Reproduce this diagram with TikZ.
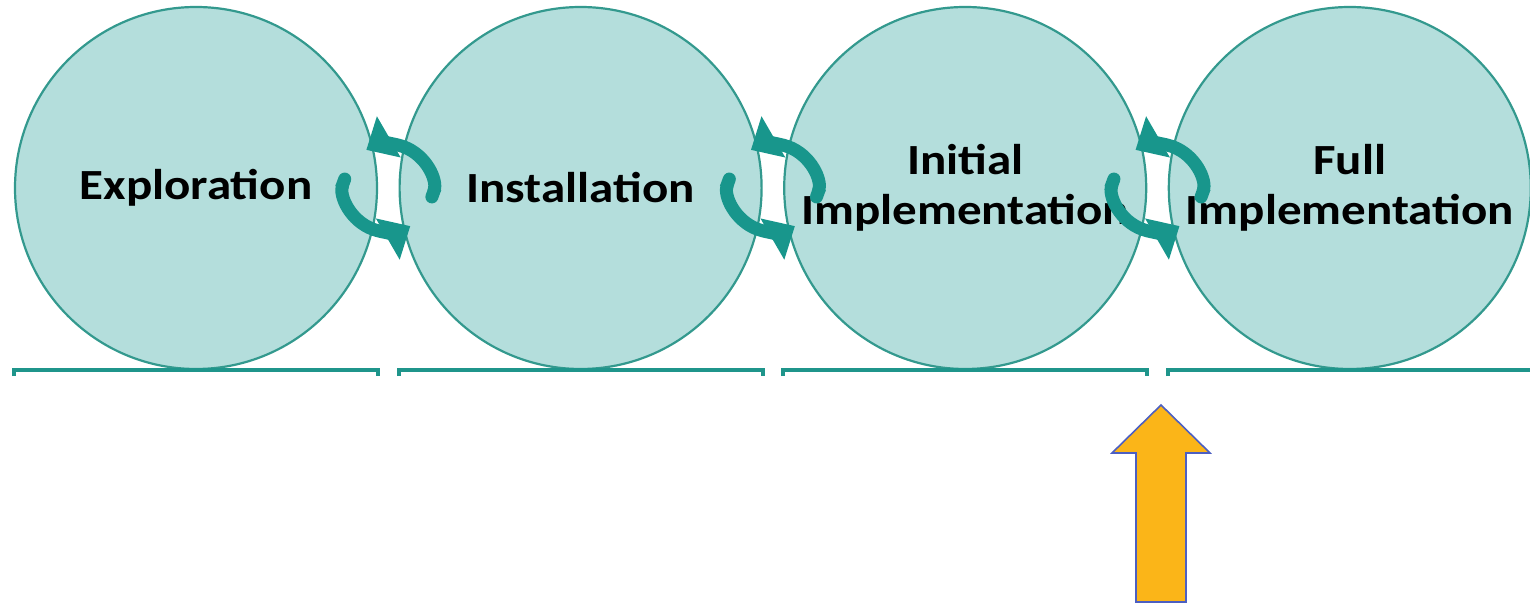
\documentclass[tikz,border=0pt]{standalone}
\usepackage{fontspec}
\setmainfont[FakeStretch=1.14]{Carlito}
\usetikzlibrary{positioning,calc,arrows.meta}
\definecolor{stagefill}{HTML}{B4DEDC}
\definecolor{stageedge}{HTML}{33998E}
\definecolor{turncolor}{HTML}{18968C}
\definecolor{panelcolor}{HTML}{1F958B}
\definecolor{pointerfill}{HTML}{FBB518}
\definecolor{pointeredge}{HTML}{4C5FC2}

\begin{document}
\begin{tikzpicture}[x=0.5pt, y=0.5pt, node distance=192.3pt]
        \tikzstyle{stage}=[circle,draw=stageedge,fill=stagefill,line width=1.1pt,minimum size=181pt,inner sep=0pt,align=center,font=\bfseries\fontsize{21.5}{25}\selectfont]
        \tikzstyle{turn}=[draw=turncolor,line width=6.5pt,{Round Cap[]}-{Triangle[length=13pt,width=23pt]}]
        \tikzstyle{panel}=[draw=panelcolor,line width=2pt]
        \tikzstyle{pointer}=[draw=pointeredge,fill=pointerfill,line width=0.8pt]

        \useasboundingbox (0,0) rectangle (1530,604);

        \node[stage] at (196,416) (expl) {Exploration};
        \node[stage, right of=expl] (inst) {Installation};
        \node[stage, right of=inst] (init) {Initial\\Implementation};
        \node[stage, right of=init] (full) {Full\\Implementation};

        \foreach \a/\b in {expl/inst, inst/init, init/full} {
            \coordinate (mid) at ($(\a)!0.5!(\b)$);
            \draw[turn] ($(mid)+(160:22pt)$) arc[start angle=160, end angle=300, radius=22pt];
            \draw[turn] ($(mid)+(-20:22pt)$) arc[start angle=-20, end angle=120, radius=22pt];
        }

        \foreach \n in {expl, inst, init, full}
            \draw[panel] ($(\n.west |- \n.south)+(0,-6)$) -- (\n.west |- \n.south) -- (\n.east |- \n.south) -- ($(\n.east |- \n.south)+(0,-6)$);

        \draw[pointer] (1136,2) -- (1136,151) -- (1112,151) -- (1161,199) -- (1210,151) -- (1186,151) -- (1186,2) -- cycle;
    \end{tikzpicture}
\end{document}
